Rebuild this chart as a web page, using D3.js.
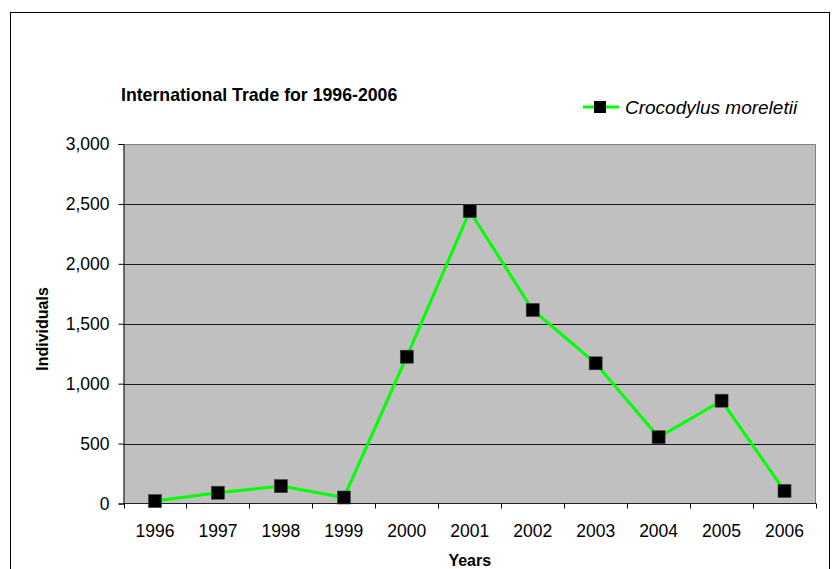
<!DOCTYPE html>
<html>
<head>
<meta charset="utf-8">
<script src="https://cdn.jsdelivr.net/npm/d3@7"></script>
<style>
  html, body { margin: 0; padding: 0; background: #fff; }
  svg { display: block; font-family: Arial, "Liberation Sans", sans-serif; }
</style>
</head>
<body>
<svg id="chart" width="832" height="569"></svg>
<script>
const years = ["1996","1997","1998","1999","2000","2001","2002","2003","2004","2005","2006"];
const individuals = [20, 90, 145, 50, 1225, 2440, 1615, 1170, 553, 858, 105];
const yTicks = [0, 500, 1000, 1500, 2000, 2500, 3000];
const seriesName = "Crocodylus moreletii";
const titleText = "International Trade for 1996-2006";
const xTitle = "Years";
const yTitle = "Individuals";

const svg = d3.select("#chart");
const plot = { left: 123.5, right: 816, top: 144, bottom: 503.5 };

// outer frame
svg.append("rect")
  .attr("x", 10.5).attr("y", 12.5)
  .attr("width", 819).attr("height", 570)
  .attr("fill", "none").attr("stroke", "#000").attr("stroke-width", 1);

const x = d3.scaleBand().domain(years).range([plot.left, plot.right]).padding(0);
const y = d3.scaleLinear().domain([0, 3000]).range([plot.bottom, plot.top]);

// plot background
svg.append("rect")
  .attr("x", plot.left).attr("y", plot.top)
  .attr("width", plot.right - plot.left).attr("height", plot.bottom - plot.top)
  .attr("fill", "#c0c0c0");

// gridlines
svg.append("g").selectAll("line")
  .data(yTicks.filter(d => d > 0 && d < 3000))
  .join("line")
  .attr("x1", plot.left).attr("x2", plot.right)
  .attr("y1", d => Math.round(y(d)) + 0.5).attr("y2", d => Math.round(y(d)) + 0.5)
  .attr("stroke", "#1a1a1a").attr("stroke-width", 1);

// top and right border gray
svg.append("path")
  .attr("d", `M${plot.left},${plot.top + 0.5}H${plot.right - 0.5}V${plot.bottom}`)
  .attr("fill", "none").attr("stroke", "#808080").attr("stroke-width", 1);

// y axis
const yAxis = d3.axisLeft(y).tickValues(yTicks).tickSize(5).tickPadding(9)
  .tickFormat(d3.format(","));
const gy = svg.append("g").attr("transform", `translate(${plot.left},0)`).call(yAxis);
gy.select(".domain").attr("stroke", "#000");
gy.selectAll(".tick line").attr("stroke", "#000");
gy.selectAll(".tick text").attr("font-size", "17.5px").attr("fill", "#000")
  .attr("font-family", "Arial, 'Liberation Sans', sans-serif");

// x axis with ticks at band boundaries
const xAxisG = svg.append("g").attr("transform", `translate(0,${plot.bottom})`);
xAxisG.append("line")
  .attr("x1", plot.left).attr("x2", plot.right)
  .attr("y1", 0).attr("y2", 0).attr("stroke", "#222");
const bounds = years.map(d => x(d)).concat([x(years[years.length - 1]) + x.bandwidth()]);
xAxisG.selectAll("line.tk").data(bounds).join("line").attr("class", "tk")
  .attr("x1", d => Math.round(d) + 0.5).attr("x2", d => Math.round(d) + 0.5)
  .attr("y1", 0).attr("y2", 5).attr("stroke", "#000");
xAxisG.selectAll("text").data(years).join("text")
  .attr("x", d => x(d) + x.bandwidth() / 2)
  .attr("y", 33.5)
  .attr("text-anchor", "middle")
  .attr("font-size", "17.5px").attr("fill", "#000")
  .text(d => d);

// line
const line = d3.line()
  .x((d, i) => x(years[i]) + x.bandwidth() / 2)
  .y(d => y(d));
svg.append("path").datum(individuals)
  .attr("d", line)
  .attr("fill", "none").attr("stroke", "#00ff00").attr("stroke-width", 3);

// markers
const ms = 13;
svg.append("g").selectAll("rect")
  .data(individuals)
  .join("rect")
  .attr("x", (d, i) => x(years[i]) + x.bandwidth() / 2 - ms / 2)
  .attr("y", d => y(d) - ms / 2)
  .attr("width", ms).attr("height", ms)
  .attr("fill", "#000").attr("stroke", "#404040").attr("stroke-width", 0.6);

// title
svg.append("text")
  .attr("x", 121).attr("y", 101)
  .attr("font-size", "17.7px").attr("font-weight", "bold").attr("fill", "#000")
  .text(titleText);

// axis titles
svg.append("text")
  .attr("x", (plot.left + plot.right) / 2).attr("y", 566)
  .attr("text-anchor", "middle")
  .attr("font-size", "16px").attr("font-weight", "bold").attr("fill", "#000")
  .text(xTitle);
svg.append("text")
  .attr("transform", `translate(48,329) rotate(-90)`)
  .attr("text-anchor", "middle")
  .attr("font-size", "16px").attr("font-weight", "bold").attr("fill", "#000")
  .text(yTitle);

// legend
const lg = svg.append("g");
lg.append("line").attr("x1", 583).attr("x2", 619).attr("y1", 107).attr("y2", 107)
  .attr("stroke", "#00ff00").attr("stroke-width", 3);
lg.append("rect").attr("x", 600 - 6).attr("y", 107 - 6).attr("width", 12).attr("height", 12)
  .attr("fill", "#000");
lg.append("text").attr("x", 625).attr("y", 113.5)
  .attr("font-size", "19px").attr("font-style", "italic").attr("fill", "#000")
  .text(seriesName);
</script>
</body>
</html>
